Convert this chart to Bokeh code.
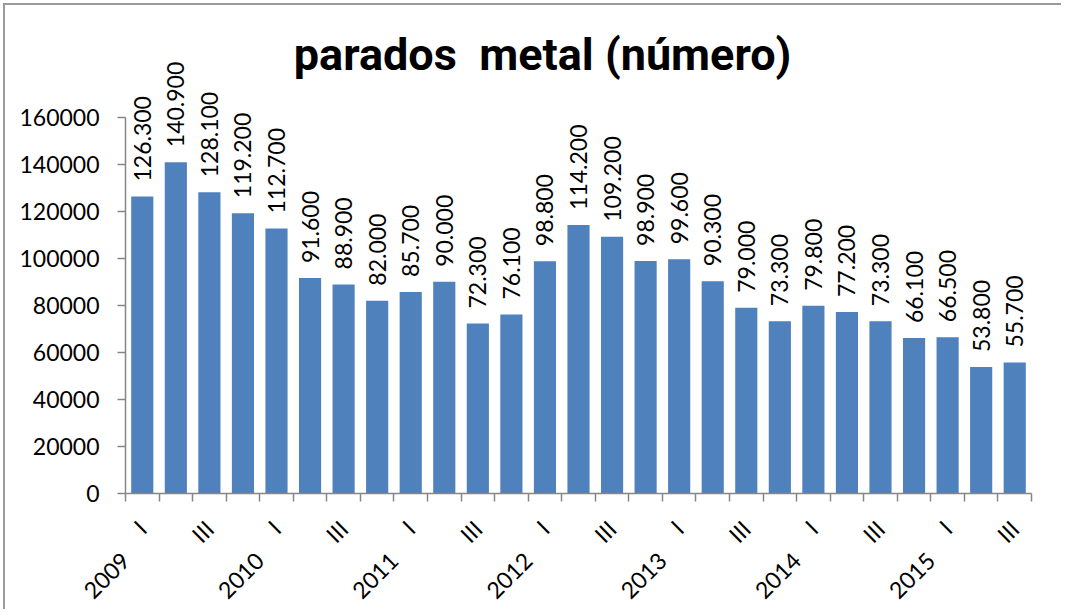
import math
from bokeh.plotting import figure
from bokeh.models import FixedTicker, LinearAxis, Range1d, Label, ColumnDataSource
from bokeh.core.properties import value
from bokeh.embed import file_html
from bokeh.resources import INLINE

# ---- data ----
years = ["2009", "2010", "2011", "2012", "2013", "2014", "2015"]
quarter_names = ["I", "II", "III", "IV"]
shown_quarters = ["I", "III"]
values = [126300, 140900, 128100, 119200,
          112700, 91600, 88900, 82000,
          85700, 90000, 72300, 76100,
          98800, 114200, 109200, 98900,
          99600, 90300, 79000, 73300,
          79800, 77200, 73300, 66100,
          66500, 53800, 55700]
y_ticks = [0, 20000, 40000, 60000, 80000, 100000, 120000, 140000, 160000]
title_text = "parados \u00a0metal (número)"

# ---- derived ----
cats = [(y, q) for y in years for q in quarter_names][:len(values)]
xs = [i + 0.5 for i in range(len(values))]
labels = [f"{v // 1000}.{v % 1000:03d}" for v in values]
src = ColumnDataSource(dict(x=xs, v=values, lbl=labels))

FONT = "Lato"
AX_COLOR = "#868686"

p = figure(frame_width=906, frame_height=475, x_range=Range1d(0, len(values)),
           y_range=Range1d(0, 202000), output_backend="svg",
           toolbar_location=None, x_axis_type=None, y_axis_type=None,
           min_border_left=120, min_border_right=30, min_border_top=13,
           min_border_bottom=100)
p.outline_line_color = None
p.xgrid.visible = False
p.ygrid.visible = False
p.styles = {"border-top": "2px solid #9a9a9a", "border-left": "2px solid #9a9a9a",
            "margin-left": "3px", "margin-top": "3px"}

# y axis
yaxis = LinearAxis(bounds=(0, 160000), ticker=FixedTicker(ticks=y_ticks),
                   major_label_overrides={t: str(t) for t in y_ticks})
yaxis.axis_line_color = AX_COLOR
yaxis.axis_line_width = 1.5
yaxis.major_tick_line_color = AX_COLOR
yaxis.major_tick_line_width = 1.5
yaxis.major_tick_out = 8
yaxis.major_tick_in = 0
yaxis.minor_tick_line_color = None
yaxis.major_label_text_font = FONT
yaxis.major_label_text_font_size = "23px"
yaxis.major_label_text_color = "#000000"
yaxis.major_label_standoff = 18
p.add_layout(yaxis, "left")

# x axis (quarters)
q_ticks = [xs[i] for i, c in enumerate(cats) if c[1] in shown_quarters]
q_over = {xs[i]: c[1] for i, c in enumerate(cats) if c[1] in shown_quarters}
xaxis = LinearAxis(ticker=FixedTicker(ticks=q_ticks, minor_ticks=list(range(len(values) + 1))),
                   major_label_overrides=q_over)
xaxis.axis_line_color = AX_COLOR
xaxis.axis_line_width = 1.5
xaxis.major_tick_line_color = None
xaxis.major_tick_out = 0
xaxis.major_tick_in = 0
xaxis.minor_tick_line_color = AX_COLOR
xaxis.minor_tick_line_width = 1.5
xaxis.minor_tick_out = 8
xaxis.minor_tick_in = 0
xaxis.major_label_orientation = math.pi / 4
xaxis.major_label_text_font = FONT
xaxis.major_label_text_font_size = "23px"
xaxis.major_label_text_color = "#000000"
xaxis.major_label_standoff = 23
p.add_layout(xaxis, "below")

# x axis (years) at the start of each year's first quarter
y_pos = [i for i, c in enumerate(cats) if c[1] == "I"]
yr_axis = LinearAxis(ticker=FixedTicker(ticks=y_pos),
                     major_label_overrides={i: cats[i][0] for i in y_pos})
yr_axis.axis_line_color = None
yr_axis.major_tick_line_color = None
yr_axis.minor_tick_line_color = None
yr_axis.major_label_orientation = math.pi / 4
yr_axis.major_label_text_font = FONT
yr_axis.major_label_text_font_size = "23px"
yr_axis.major_label_text_color = "#000000"
yr_axis.major_label_standoff = -10
p.add_layout(yr_axis, "below")

# bars
p.vbar(x="x", top="v", width=0.66, bottom=0, source=src,
       fill_color="#4F81BD", line_color=None)

# data labels
p.text(x="x", y="v", text="lbl", source=src, angle=math.pi / 2,
       text_align="left", text_baseline="middle", y_offset=-15,
       text_font=value(FONT), text_font_size="23px", text_color="#000000")

# title
title = Label(x=12.43, y=186700, text=title_text, text_align="center",
              text_baseline="middle", text_font="Roboto",
              text_font_style="bold", text_font_size="45px", text_color="#000000")
p.add_layout(title)

open("out.html", "w").write(file_html(p, INLINE))
